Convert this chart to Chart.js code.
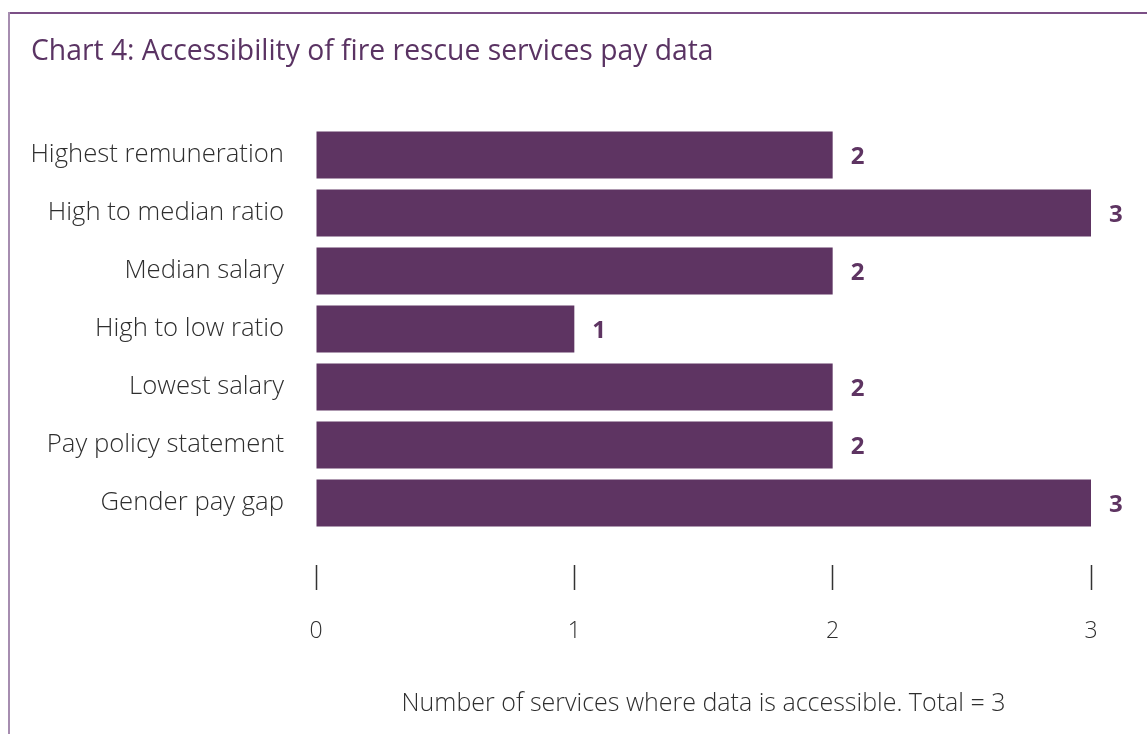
<!DOCTYPE html>
<html>
<head>
<meta charset="utf-8">
<style>
  html, body { margin: 0; padding: 0; background: #fff; }
  #wrap { width: 1147px; height: 734px; position: relative; }
</style>
<script src="https://cdn.jsdelivr.net/npm/chart.js@4.4.1/dist/chart.umd.min.js"></script>
</head>
<body>
<div id="wrap"><canvas id="c" width="1147" height="734"></canvas></div>
<script>
const categories = [
  "Highest remuneration",
  "High to median ratio",
  "Median salary",
  "High to low ratio",
  "Lowest salary",
  "Pay policy statement",
  "Gender pay gap"
];
const servicesAccessible = [2, 3, 2, 1, 2, 2, 3];
const xTickValues = [0, 1, 2, 3];
const chartTitle = "Chart 4: Accessibility of fire rescue services pay data";
const xAxisTitle = "Number of services where data is accessible. Total = 3";

const FONT = "'Open Sans', 'Liberation Sans', sans-serif";
const PURPLE = "#5e3462";

const framePlugin = {
  id: 'frame',
  beforeDraw(chart) {
    const ctx = chart.ctx;
    ctx.save();
    ctx.fillStyle = '#fff';
    ctx.fillRect(0, 0, chart.width, chart.height);
    ctx.fillStyle = '#7b4f86';
    ctx.fillRect(8, 12, chart.width - 8, 2);
    ctx.fillStyle = '#a68db0';
    ctx.fillRect(8, 12, 2, chart.height - 12);
    ctx.restore();
  }
};

const valueLabels = {
  id: 'valueLabels',
  afterDatasetsDraw(chart) {
    const ctx = chart.ctx;
    const meta = chart.getDatasetMeta(0);
    ctx.save();
    ctx.font = "bold 24px " + FONT;
    ctx.fillStyle = PURPLE;
    ctx.textAlign = 'left';
    ctx.textBaseline = 'middle';
    meta.data.forEach((bar, i) => {
      ctx.fillText(String(servicesAccessible[i]), bar.x + 18, bar.y + 2);
    });
    ctx.restore();
  }
};

new Chart(document.getElementById('c'), {
  type: 'bar',
  data: {
    labels: categories,
    datasets: [{
      data: servicesAccessible,
      backgroundColor: PURPLE,
      borderWidth: 0,
      barPercentage: 0.9,
      categoryPercentage: 0.9
    }]
  },
  options: {
    indexAxis: 'y',
    responsive: false,
    animation: false,
    layout: { padding: { left: 31, right: 56, top: 0, bottom: 0 } },
    plugins: {
      legend: { display: false },
      tooltip: { enabled: false },
      title: {
        display: true,
        text: chartTitle,
        align: 'start',
        color: '#5a3363',
        font: { family: FONT, size: 28.3, weight: 'normal' },
        padding: { top: 35, bottom: 57 }
      }
    },
    scales: {
      x: {
        min: 0,
        max: 3,
        afterBuildTicks(scale) {
          scale.ticks = xTickValues.map(v => ({ value: v }));
        },
        afterFit(scale) { scale.height = 202; },
        border: { display: false },
        grid: {
          drawOnChartArea: false,
          drawTicks: true,
          tickLength: 58,
          tickWidth: 1.5,
          tickColor: '#333',
          tickBorderDash: [0, 33, 25, 200]
        },
        ticks: {
          padding: 28,
          color: '#2e2e2e',
          font: { family: FONT, size: 23, weight: '300' }
        },
        title: {
          display: true,
          text: xAxisTitle,
          color: '#2e2e2e',
          font: { family: FONT, size: 25, weight: '300' },
          padding: { top: 20, bottom: 15 }
        }
      },
      y: {
        border: { display: false },
        grid: { display: false, drawTicks: false },
        afterFit(scale) { scale.width = 285; },
        ticks: {
          padding: 32,
          color: '#2e2e2e',
          font: { family: FONT, size: 25.7, weight: '300' }
        }
      }
    }
  },
  plugins: [framePlugin, valueLabels]
});
</script>
</body>
</html>
